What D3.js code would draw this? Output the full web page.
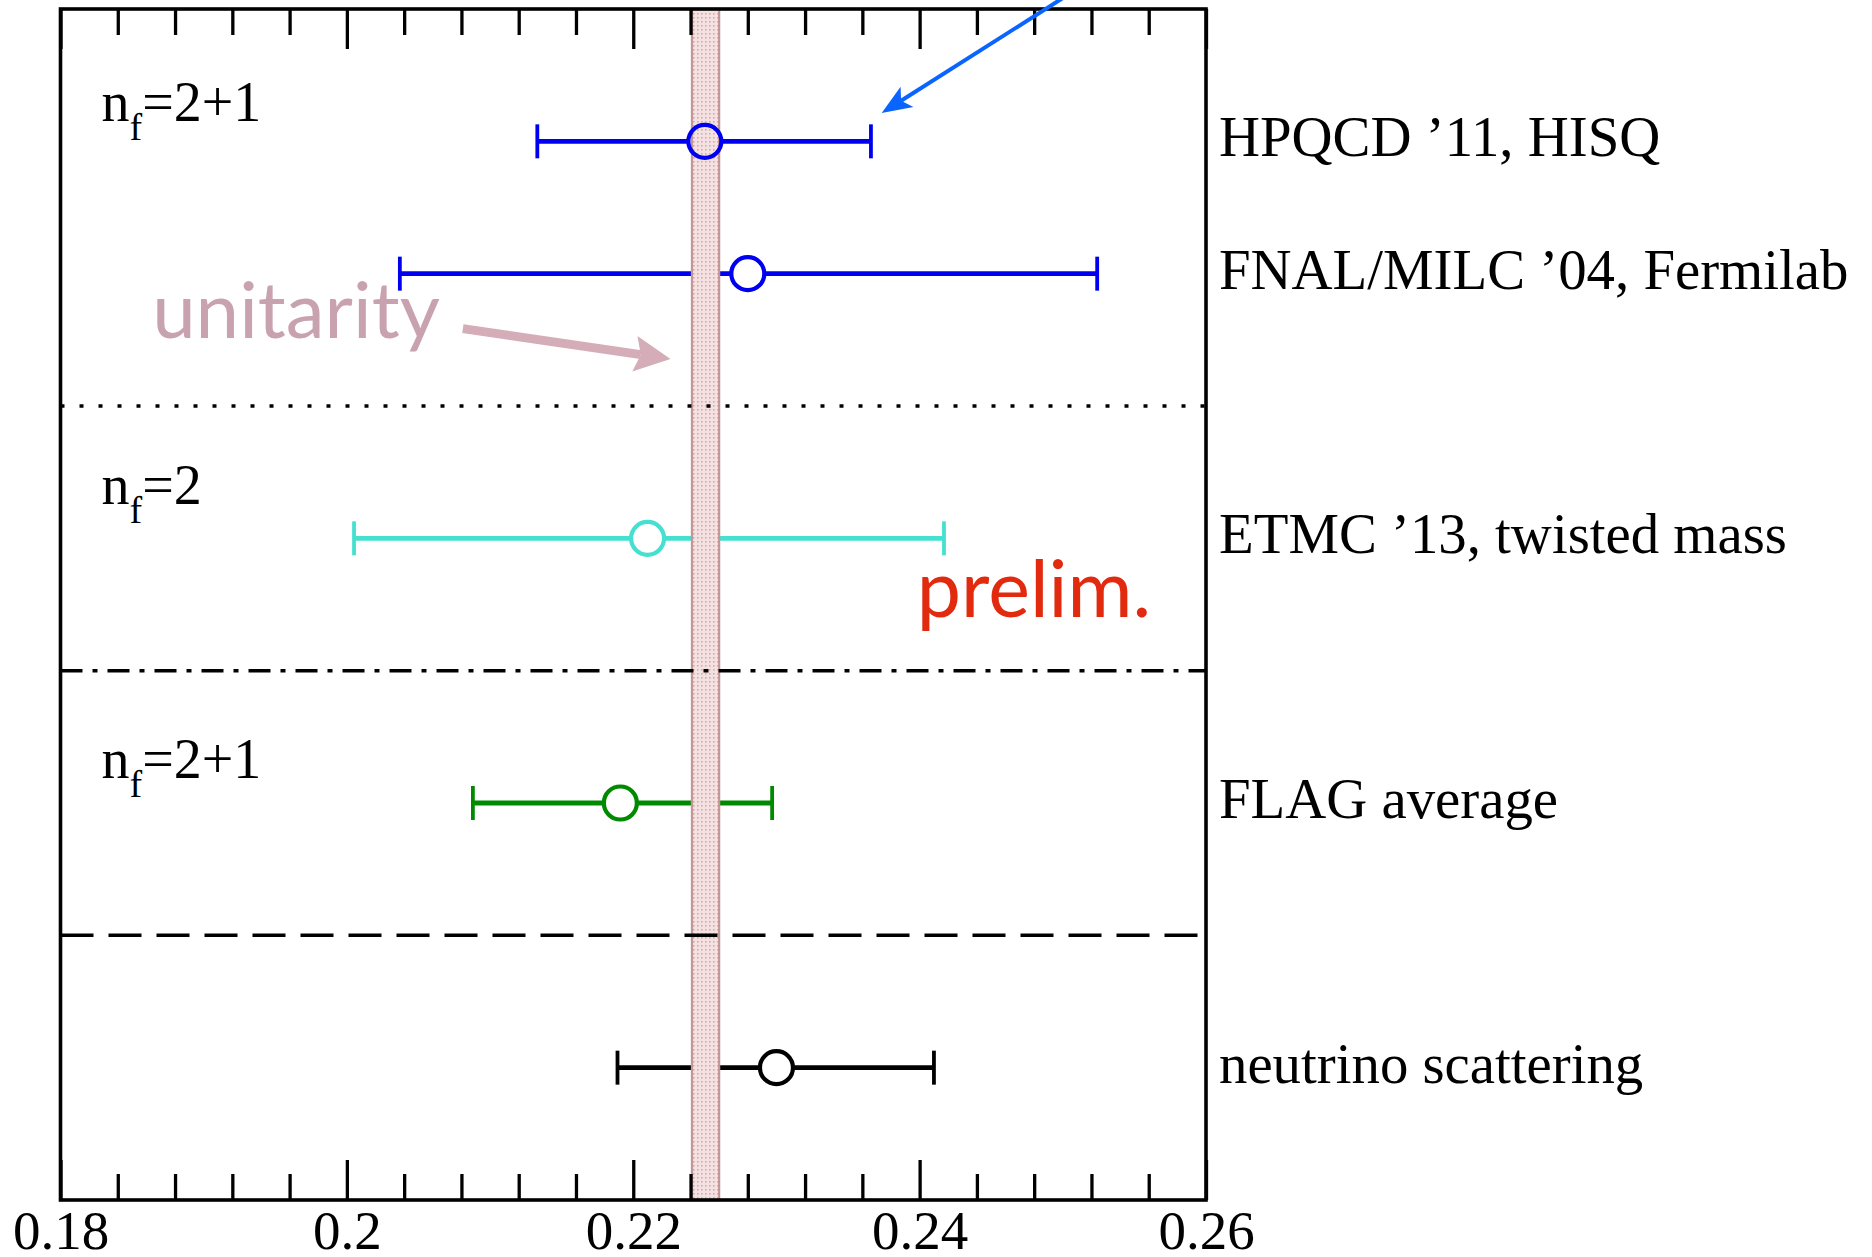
<!DOCTYPE html>
<html>
<head>
<meta charset="utf-8">
<script src="https://cdn.jsdelivr.net/npm/d3@7"></script>
<style>
  html, body { margin: 0; padding: 0; background: #fff; }
  svg { display: block; }
</style>
</head>
<body>
<svg id="chart" width="1872" height="1257"></svg>
<script>
// |V_cd| determinations: central value with lower / upper uncertainty
const labels    = ["HPQCD \u201911, HISQ", "FNAL/MILC \u201904, Fermilab", "ETMC \u201913, twisted mass", "FLAG average", "neutrino scattering"];
const rows      = [1, 2, 4, 6, 8];
const centers   = [0.2250, 0.2280, 0.2210, 0.2191, 0.2300];
const lowerErr  = [0.0117, 0.0243, 0.0205, 0.0103, 0.0111];
const upperErr  = [0.0116, 0.0244, 0.0207, 0.0106, 0.0110];
const colors    = ["#0000f0", "#0000f0", "#45e0d0", "#008a00", "#000000"];

// group headers (number of sea flavours) and separators between groups
const groupLabels = ["2+1", "2", "2+1"];
const groupRows   = [0.85, 3.74, 5.81];
const sepRows     = [3, 5, 7];
const sepDash     = ["4,15", "22,10,5,10", "33,15"];

// unitarity band
const bandRange = [0.2241, 0.2260];

// axis ticks
const majorTicks = [0.18, 0.20, 0.22, 0.24, 0.26];
const tickLabels = ["0.18", "0.2", "0.22", "0.24", "0.26"];
const minorTicks = [0.184, 0.188, 0.192, 0.196, 0.204, 0.208, 0.212, 0.216,
                    0.224, 0.228, 0.232, 0.236, 0.244, 0.248, 0.252, 0.256];

const svg = d3.select("#chart");
const x = d3.scaleLinear().domain([0.18, 0.26]).range([60.5, 1206]);
const y = d3.scaleLinear().domain([0, 9]).range([9, 1200]);

const serif = "'Liberation Serif', 'DejaVu Serif', serif";
const sans  = "Lato, 'Open Sans', sans-serif";

// stipple pattern for the band
const defs = svg.append("defs");
const pat = defs.append("pattern").attr("id", "stipple")
  .attr("patternUnits", "userSpaceOnUse").attr("width", 4).attr("height", 4);
pat.append("rect").attr("width", 4).attr("height", 4).attr("fill", "#f4e2e2");
pat.append("rect").attr("x", 1).attr("y", 1).attr("width", 1.6).attr("height", 1.6).attr("fill", "#d7a9ab");

const idx = d3.range(centers.length);

// error bars
const bars = svg.append("g");
bars.selectAll("line.err").data(idx).join("line")
  .attr("x1", i => x(centers[i] - lowerErr[i]))
  .attr("x2", i => x(centers[i] + upperErr[i]))
  .attr("y1", i => y(rows[i])).attr("y2", i => y(rows[i]))
  .attr("stroke", i => colors[i]).attr("stroke-width", 4.8);
bars.selectAll("line.capL").data(idx).join("line")
  .attr("x1", i => x(centers[i] - lowerErr[i])).attr("x2", i => x(centers[i] - lowerErr[i]))
  .attr("y1", i => y(rows[i]) - 17).attr("y2", i => y(rows[i]) + 17)
  .attr("stroke", i => colors[i]).attr("stroke-width", 3.8);
bars.selectAll("line.capR").data(idx).join("line")
  .attr("x1", i => x(centers[i] + upperErr[i])).attr("x2", i => x(centers[i] + upperErr[i]))
  .attr("y1", i => y(rows[i]) - 17).attr("y2", i => y(rows[i]) + 17)
  .attr("stroke", i => colors[i]).attr("stroke-width", 3.8);
// symbol interiors
bars.selectAll("circle").data(idx).join("circle")
  .attr("cx", i => x(centers[i])).attr("cy", i => y(rows[i])).attr("r", 16.5)
  .attr("fill", "#fff");

// unitarity band
svg.append("rect")
  .attr("x", x(bandRange[0])).attr("y", y(0))
  .attr("width", x(bandRange[1]) - x(bandRange[0])).attr("height", y(9) - y(0))
  .attr("fill", "url(#stipple)").attr("stroke", "#c49596").attr("stroke-width", 2.2);

// symbol outlines
svg.append("g").selectAll("circle").data(idx).join("circle")
  .attr("cx", i => x(centers[i])).attr("cy", i => y(rows[i])).attr("r", 16.5)
  .attr("fill", "none").attr("stroke", i => colors[i]).attr("stroke-width", 4.2);

// group separators
svg.append("g").selectAll("line").data(sepRows).join("line")
  .attr("x1", x(0.18)).attr("x2", x(0.26))
  .attr("y1", d => y(d)).attr("y2", d => y(d))
  .attr("stroke", "#000").attr("stroke-width", 3.5)
  .attr("stroke-dasharray", (d, i) => sepDash[i]);

// axes: major / minor ticks on bottom and top, pointing inward
function styleAxis(g) {
  g.select(".domain").remove();
  g.selectAll(".tick line").attr("stroke", "#000").attr("stroke-width", 3.3);
  g.selectAll(".tick text").attr("font-family", serif).attr("font-size", 55).attr("fill", "#000");
}
svg.append("g").attr("transform", `translate(0,${y(9)})`)
  .call(d3.axisBottom(x).tickValues(majorTicks).tickSize(-40).tickPadding(10)
        .tickFormat((d, i) => tickLabels[i]))
  .call(styleAxis);
svg.append("g").attr("transform", `translate(0,${y(9)})`)
  .call(d3.axisBottom(x).tickValues(minorTicks).tickSize(-26).tickFormat(""))
  .call(styleAxis);
svg.append("g").attr("transform", `translate(0,${y(0)})`)
  .call(d3.axisTop(x).tickValues(majorTicks).tickSize(-40).tickFormat(""))
  .call(styleAxis);
svg.append("g").attr("transform", `translate(0,${y(0)})`)
  .call(d3.axisTop(x).tickValues(minorTicks).tickSize(-26).tickFormat(""))
  .call(styleAxis);

// frame
svg.append("rect")
  .attr("x", x(0.18)).attr("y", y(0))
  .attr("width", x(0.26) - x(0.18)).attr("height", y(9) - y(0))
  .attr("fill", "none").attr("stroke", "#000").attr("stroke-width", 3.6);

// row labels on the right
svg.append("g").selectAll("text").data(idx).join("text")
  .attr("x", x(0.26) + 13).attr("y", i => y(rows[i]) + 15)
  .attr("font-family", serif).attr("font-size", 56.8).attr("fill", "#000")
  .text(i => labels[i]);

// n_f group headers
const gh = svg.append("g").selectAll("text").data(groupLabels).join("text")
  .attr("x", x(0.18) + 41).attr("y", (d, i) => y(groupRows[i]))
  .attr("font-family", serif).attr("font-size", 56).attr("fill", "#000");
gh.append("tspan").text("n");
gh.append("tspan").attr("dy", 19).attr("font-size", 38).text("f");
gh.append("tspan").attr("dy", -19).text(d => "=" + d);

// "unitarity" annotation with arrow pointing at the band
svg.append("text")
  .attr("x", x(0.1864)).attr("y", y(2.486))
  .attr("font-family", sans).attr("font-size", 78).attr("fill", "#c9a2b0")
  .text("unitarity");

function arrow(g, x0, y0, x1, y1, width, headLen, headHalf, notch, color) {
  const dx = x1 - x0, dy = y1 - y0, L = Math.hypot(dx, dy);
  const ux = dx / L, uy = dy / L, nx = -uy, ny = ux;
  const bx = x1 - headLen * ux, by = y1 - headLen * uy;
  const mx = x1 - (headLen - notch) * ux, my = y1 - (headLen - notch) * uy;
  g.append("line").attr("x1", x0).attr("y1", y0).attr("x2", mx).attr("y2", my)
    .attr("stroke", color).attr("stroke-width", width);
  g.append("path")
    .attr("d", `M${x1},${y1}L${bx + headHalf * nx},${by + headHalf * ny}L${mx},${my}L${bx - headHalf * nx},${by - headHalf * ny}Z`)
    .attr("fill", color);
}
const ann = svg.append("g");
arrow(ann, x(0.2081), y(2.415), x(0.2226), y(2.645), 9, 36, 18, 6, "#d4adb9");

// "prelim." tag for the ETMC result
svg.append("text")
  .attr("x", x(0.2398)).attr("y", y(4.595))
  .attr("font-family", sans).attr("font-size", 79).attr("fill", "#e22a0e")
  .text("prelim.");

// arrow pointing at the HPQCD result
arrow(ann, x(0.2520), y(-0.22), x(0.23735), y(0.786), 4, 30, 12, 7, "#0a64ff");
</script>
</body>
</html>
